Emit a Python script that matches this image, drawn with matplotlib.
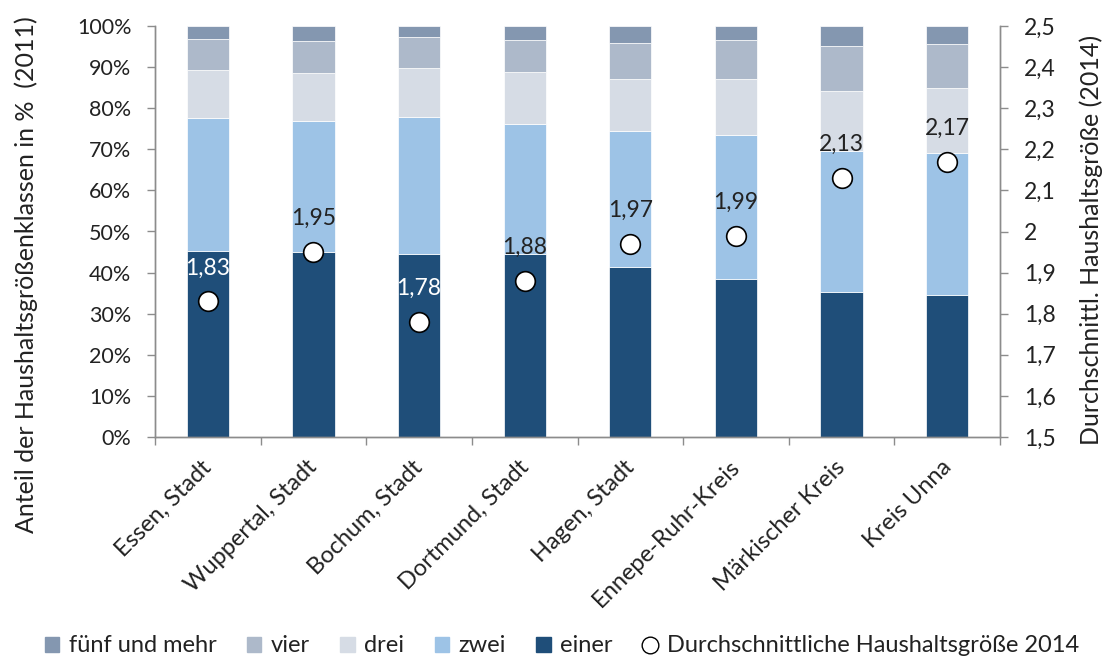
import matplotlib
matplotlib.use("Agg")
import matplotlib.pyplot as plt
from matplotlib.lines import Line2D
from matplotlib.patches import Patch
import matplotlib.transforms as mtransforms
import numpy as np

plt.rcParams['font.family'] = ['Lato', 'DejaVu Sans']

categories = ["Essen, Stadt", "Wuppertal, Stadt", "Bochum, Stadt", "Dortmund, Stadt",
              "Hagen, Stadt", "Ennepe-Ruhr-Kreis", "Märkischer Kreis", "Kreis Unna"]
einer = [45.2, 45.1, 44.5, 44.5, 41.4, 38.4, 35.4, 34.5]
zwei = [32.5, 31.9, 33.4, 31.7, 33.1, 35.1, 34.3, 34.7]
drei = [11.6, 11.5, 11.9, 12.6, 12.6, 13.7, 14.5, 15.6]
vier = [7.5, 7.9, 7.6, 7.8, 8.8, 9.4, 10.9, 10.8]
fuenf = [3.2, 3.6, 2.6, 3.4, 4.1, 3.4, 4.9, 4.4]
avg_size = [1.83, 1.95, 1.78, 1.88, 1.97, 1.99, 2.13, 2.17]
avg_labels = ["1,83", "1,95", "1,78", "1,88", "1,97", "1,99", "2,13", "2,17"]
label_white = [True, False, True, False, False, False, False, False]
left_ticks = ["0%", "10%", "20%", "30%", "40%", "50%", "60%", "70%", "80%", "90%", "100%"]
right_ticks = ["1,5", "1,6", "1,7", "1,8", "1,9", "2", "2,1", "2,2", "2,3", "2,4", "2,5"]

c_einer = "#1F4E79"
c_zwei = "#9DC3E6"
c_drei = "#D6DCE5"
c_vier = "#ADB9CA"
c_fuenf = "#8497B0"
txt = '#222222'
axc = '#8c8c8c'

W, H = 1109, 659
fig = plt.figure(figsize=(W/100, H/100), dpi=100)
ax = fig.add_axes([155/W, 1-437/H, (1000-155)/W, (437-26)/H])
x = np.arange(len(categories))
w = 0.40
bottom = np.zeros(len(categories))
for vals, col in [(einer, c_einer), (zwei, c_zwei), (drei, c_drei), (vier, c_vier), (fuenf, c_fuenf)]:
    ax.bar(x, vals, w, bottom=bottom, color=col, edgecolor='white', linewidth=0.5, zorder=2)
    bottom += np.array(vals)

ax.set_xlim(-0.5, len(categories) - 0.5)
ax.set_ylim(0, 100)
ax.set_yticks(np.arange(0, 101, 10))
ax.set_yticklabels(left_ticks)
ax.set_xticks(x)
ax.set_xticklabels(categories, rotation=45, ha='right', va='top', rotation_mode='anchor')
ax.set_xticks(np.arange(-0.5, len(categories), 1.0), minor=True)
ax.tick_params(axis='x', which='minor', direction='out', length=6, color=axc, width=1)
ax.tick_params(axis='x', which='major', length=0, pad=14, labelsize=17, colors=txt)
ax.tick_params(axis='y', direction='out', length=6, color=axc, width=1, labelsize=15.5, colors=txt, pad=11)
offset = mtransforms.ScaledTranslation(-7/100, 0, fig.dpi_scale_trans)
for lab in ax.get_xticklabels():
    lab.set_transform(lab.get_transform() + offset)
ax.spines['top'].set_visible(False)
for s in ['left', 'bottom', 'right']:
    ax.spines[s].set_color(axc)
    ax.spines[s].set_linewidth(1)

ax2 = ax.twinx()
ax2.set_ylim(1.5, 2.5)
ax2.set_yticks(np.linspace(1.5, 2.5, 11))
ax2.set_yticklabels(right_ticks)
ax2.tick_params(axis='y', labelsize=16.5, colors=txt, direction='out', length=6, color=axc, width=1, pad=11)
ax2.spines['top'].set_visible(False)
for s in ['left', 'bottom', 'right']:
    ax2.spines[s].set_color(axc)
    ax2.spines[s].set_linewidth(1)
ax2.scatter(x, avg_size, s=200, facecolor='white', edgecolor='black', linewidth=1.2, zorder=5)
for xi, v, lab, wh in zip(x, avg_size, avg_labels, label_white):
    ax2.annotate(lab, (xi, v), xytext=(0, 24), textcoords='offset points', ha='center', va='center',
                 fontsize=16.5, color='white' if wh else txt, zorder=6)

fig.text(26/W, 1-275/H, "Anteil der Haushaltsgrößenklassen in %  (2011)", rotation=90,
         ha='center', va='center', fontsize=18, color=txt)
fig.text(1091/W, 1-240/H, "Durchschnittl. Haushaltsgröße (2014)", rotation=90,
         ha='center', va='center', fontsize=18, color=txt)

handles = [Patch(color=c_fuenf, label="fünf und mehr"), Patch(color=c_vier, label="vier"),
           Patch(color=c_drei, label="drei"), Patch(color=c_zwei, label="zwei"),
           Patch(color=c_einer, label="einer"),
           Line2D([], [], marker='o', linestyle='none', markerfacecolor='white', markeredgecolor='black',
                  markersize=12, label="Durchschnittliche Haushaltsgröße 2014")]
fig.legend(handles=handles, loc='center', bbox_to_anchor=(562/W, 1-646/H), ncol=6, frameon=False,
           fontsize=17, handlelength=0.6, handleheight=0.6, handletextpad=0.4, columnspacing=1.3,
           labelcolor=txt, borderpad=0)

fig.savefig("out.png", dpi=100)
